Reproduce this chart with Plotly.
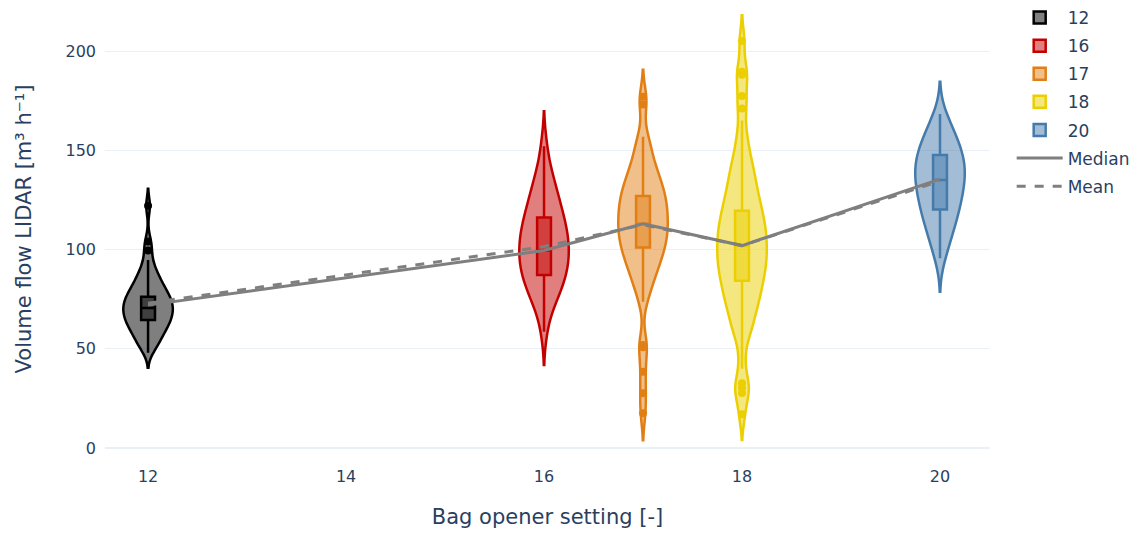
import plotly.graph_objects as go

settings = [12, 16, 17, 18, 20]
names = ["12", "16", "17", "18", "20"]

# sample values (core of each distribution)
core_12 = [49, 50.8, 53.2, 54.7, 56.0, 57.3, 58.6, 59.9, 60.8, 61.7, 62.6, 63.5, 64.3,
           65.3, 66.0, 66.7, 67.5, 68.3, 69.1, 69.8, 70.5, 71.3, 72.0, 72.8, 73.6,
           74.3, 75.2, 76.0, 76.7, 77.7, 78.7, 79.8, 80.9, 81.9, 83.3, 84.9, 86.6,
           88.2, 90.8, 94.0]
core_16 = [58.5, 68.9, 72.1, 75.2, 77.8, 79.9, 81.8, 83.9, 85.5, 87.0, 88.5, 90.1,
           91.6, 93.0, 94.4, 95.8, 97.3, 98.7, 100.2, 101.6, 103.0, 104.5, 105.9,
           107.4, 108.9, 110.4, 112.0, 113.6, 115.3, 117.3, 119.2, 121.2, 123.1,
           125.6, 128.2, 130.8, 134.3, 137.8, 142.4, 153]
core_17 = [74, 78.9, 82.4, 85.2, 87.9, 89.7, 91.4, 93.4, 95.1, 96.6, 98.0, 99.4,
           100.7, 102.0, 103.3, 104.5, 105.7, 106.9, 108.0, 109.2, 110.4, 111.5,
           112.7, 113.8, 115.0, 116.2, 117.4, 118.6, 119.8, 121.0, 122.2, 123.3,
           124.6, 125.8, 127.0, 128.3, 129.7, 131.1, 132.6, 134.0, 135.4, 137.4,
           139.3, 141.4, 143.6, 146.7, 149.9, 154.2, 157.2]
core_18 = [44, 55.0, 59.0, 62.2, 65.4, 68.2, 70.6, 72.9, 75.0, 76.9, 78.7, 80.6,
           82.4, 84.2, 85.7, 87.4, 88.9, 90.5, 91.9, 93.4, 94.7, 96.2, 97.6, 99.1,
           100.4, 101.9, 103.4, 104.8, 106.3, 107.7, 109.2, 110.6, 112.1, 113.5,
           115.1, 116.8, 118.6, 120.4, 122.2, 123.9, 126.0, 128.2, 130.4, 132.9,
           135.6, 138.2, 140.9, 144.4, 148.3, 153.5, 160.2]
core_20 = [94.8, 100.1, 104.0, 106.0, 110.0, 112.0, 113.9, 115.8, 117.5, 119.4,
           121.3, 122.9, 124.4, 125.9, 127.4, 128.8, 130.3, 131.7, 133.1, 134.5,
           135.8, 137.0, 138.1, 139.5, 140.8, 142.1, 143.4, 144.7, 146.0, 147.3,
           148.6, 150.0, 151.7, 153.2, 155.0, 156.8, 159.2, 161.5, 164.5, 168.5]

# outlier points
out_12 = [99.5, 104, 122]
out_16 = []
out_17 = [17.5, 27.6, 38.4, 50.8, 51.9, 173, 177]
out_18 = [17.1, 27.7, 30.2, 32.6, 171, 177.3, 188, 189.6, 205]
out_20 = []

# box statistics
q1_vals = [64.5, 87.2, 101.0, 84.3, 120.2]
med_vals = [70.5, 99.5, 113.0, 101.8, 135.0]
q3_vals = [76.2, 116.2, 127.0, 119.5, 147.6]
lowf_vals = [48.0, 58.6, 73.7, 40.0, 95.6]
upf_vals = [94.7, 152.0, 156.8, 165.0, 168.3]

# connecting lines
median_flow = [72, 99.5, 113, 102, 135.5]
mean_flow = [73, 101.5, 112.5, 102, 134.5]

cores = [core_12, core_16, core_17, core_18, core_20]
outs = [out_12, out_16, out_17, out_18, out_20]
bandwidths = [4.3, 8.3, 6.8, 6.5, 8.0]
colors = ["#000000", "#C30000", "#E17F15", "#EBCF00", "#457BAB"]

fig = go.Figure()
for i, (s, nm, core, out, bw, c) in enumerate(zip(settings, names, cores, outs, bandwidths, colors)):
    fig.add_trace(go.Violin(
        x0=s, y=core + out, name=nm, legendgroup=nm, width=0.5, bandwidth=bw,
        line=dict(color=c, width=2.5),
        box=dict(visible=False), points=False,
        spanmode="soft", scalemode="width", hoverinfo="skip",
    ))
    fig.add_trace(go.Box(
        x=[s], q1=[q1_vals[i]], median=[med_vals[i]], q3=[q3_vals[i]],
        lowerfence=[lowf_vals[i]], upperfence=[upf_vals[i]],
        width=0.14, whiskerwidth=0, line=dict(color=c, width=2.5),
        boxpoints=False, legendgroup=nm, showlegend=False, hoverinfo="skip",
    ))
    if out:
        fig.add_trace(go.Scatter(
            x=[s] * len(out), y=out, mode="markers",
            marker=dict(color=c, size=8), legendgroup=nm, showlegend=False,
        ))

fig.add_trace(go.Scatter(x=settings, y=median_flow, mode="lines", name="Median",
                         legendgroup="median", line=dict(color="#7f7f7f", width=3)))
fig.add_trace(go.Scatter(x=settings, y=mean_flow, mode="lines", name="Mean",
                         legendgroup="mean", line=dict(color="#7f7f7f", width=3, dash="dash")))

fig.update_layout(
    template="plotly_white",
    width=1137, height=533,
    margin=dict(l=105, r=147, t=0, b=75),
    violinmode="overlay", boxmode="overlay",
    font=dict(family="Verdana, DejaVu Sans, sans-serif", size=16, color="#2a3f5f"),
    legend=dict(font=dict(size=17), x=1.0245, y=1.0, xanchor="left", yanchor="top",
                traceorder="grouped", tracegroupgap=3, itemwidth=46),
    xaxis=dict(title=dict(text="Bag opener setting [-]", font=dict(size=21), standoff=24),
               range=[11.565, 20.505], dtick=2, tick0=12, showgrid=False,
               zeroline=False, tickfont=dict(size=16), ticklabelstandoff=7,
               automargin=False),
    yaxis=dict(title=dict(text="Volume flow LIDAR [m³ h⁻¹]", font=dict(size=21), standoff=28),
               range=[-5, 225.7], dtick=50, tickfont=dict(size=16), ticklabelstandoff=8,
               gridcolor="#EBF0F8", zerolinecolor="#EBF0F8", automargin=False),
)

fig.write_html("out.html")
